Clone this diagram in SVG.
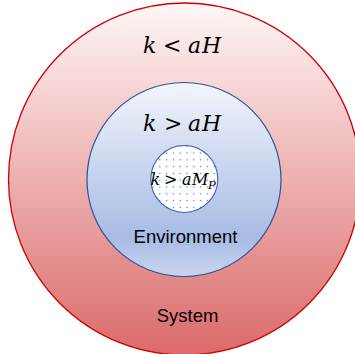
<svg xmlns="http://www.w3.org/2000/svg" width="355" height="354" viewBox="0 0 355 354">
<style>
.math{font-family:"DejaVu Serif","Liberation Serif",serif;font-style:italic;fill:#000}
.op{font-style:normal}
.lbl{font-family:"Liberation Sans",Arial,sans-serif;font-size:18.5px;fill:#000;text-anchor:middle}
</style>
<defs>
<linearGradient id="gRed" x1="0" y1="0" x2="0" y2="1">
<stop offset="0" stop-color="#fff6f6"/>
<stop offset="1" stop-color="#db6a6a"/>
</linearGradient>
<linearGradient id="gBlue" x1="0" y1="0" x2="0" y2="1">
<stop offset="0" stop-color="#f2f5fc"/>
<stop offset="0.8" stop-color="#a7bbe3"/>
<stop offset="1" stop-color="#c9d6f0"/>
</linearGradient>
<pattern id="dots" x="0" y="0" width="6.8" height="6.8" patternUnits="userSpaceOnUse">
<rect width="6.8" height="6.8" fill="#ffffff"/>
<circle cx="3.4" cy="3.4" r="0.7" fill="#3f78d8"/>
</pattern>
</defs>
<g id="system">
<circle cx="184.5" cy="179" r="176" fill="url(#gRed)" stroke="#cc0000" stroke-width="1.3"/>
<text class="math" font-size="22" y="53"><tspan x="143">k</tspan><tspan class="op" x="163">&lt;</tspan><tspan x="188">a</tspan><tspan x="202">H</tspan></text>
<text class="lbl" x="187.5" y="322">System</text>
</g>
<g id="environment">
<circle cx="184" cy="179.5" r="97" fill="url(#gBlue)" stroke="#2f5496" stroke-width="1.2"/>
<text class="math" font-size="22" y="131"><tspan x="143">k</tspan><tspan class="op" x="164">&gt;</tspan><tspan x="188">a</tspan><tspan x="202">H</tspan></text>
<text class="lbl" x="185.5" y="243">Environment</text>
</g>
<g id="core">
<circle cx="184.3" cy="179" r="33.5" fill="url(#dots)" stroke="#3a62a8" stroke-width="1.1"/>
<text class="math" font-size="16" y="185"><tspan x="150.5">k</tspan><tspan class="op" x="164">&gt;</tspan><tspan x="182">a</tspan><tspan x="192">M</tspan><tspan x="208" y="189" font-size="11.5">P</tspan></text>
</g>
<g id="connectors"/>
</svg>
